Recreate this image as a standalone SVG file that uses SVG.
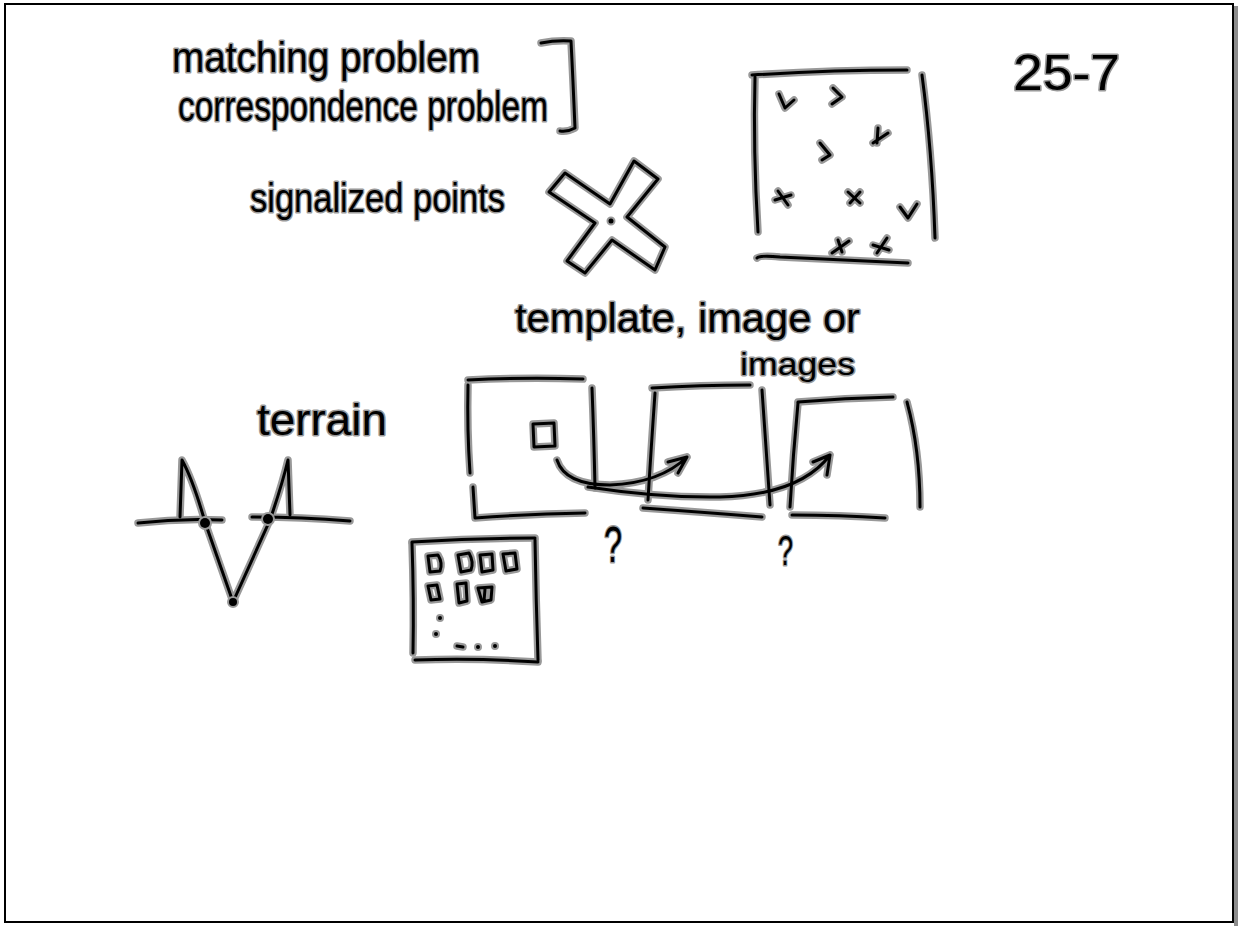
<svg xmlns="http://www.w3.org/2000/svg" xmlns:xlink="http://www.w3.org/1999/xlink" width="1238" height="926" viewBox="0 0 1238 926">
<style>
.halo{fill:none;stroke:#999;stroke-width:7.5;stroke-linecap:round;stroke-linejoin:round}
.ink{fill:none;stroke:#000;stroke-width:3;stroke-linecap:round;stroke-linejoin:round}
.dothalo{fill:#999;stroke:#999;stroke-width:4}
.dot{fill:#000}
.hw{font-family:"Liberation Sans","DejaVu Sans",sans-serif;fill:#000;stroke:#999;stroke-width:3;paint-order:stroke;stroke-linejoin:round}
</style>
<defs>
<g id="strokes">
<path d="M541,43 Q556,40 571,41 Q573,80 575,128 Q568,132 560,131"/>
<path d="M549,192 L565,173 L610,204 L634,161 L658,179 L627,217 L665,247 L655,270 L612,240 L585,273 L567,261 L595,223 Z"/>
<path d="M752,75 Q830,70 907,70"/>
<path d="M755,77 Q753,150 758,232"/>
<path d="M922,75 Q932,150 935,238"/>
<path d="M757,258 Q760,255 780,257 Q850,260 908,263"/>
<path d="M779,94 L785,108 L794,100"/>
<path d="M833,88 L842,97 L832,104"/>
<path d="M820,143 L830,155 L822,160"/>
<path d="M878,128 L877,143 M873,143 L888,133"/>
<path d="M778,191 L788,205 M775,200 L791,195"/>
<path d="M848,192 L860,203 M860,192 L850,203"/>
<path d="M900,207 L908,218 L917,204"/>
<path d="M832,253 L849,241 M838,240 L842,252"/>
<path d="M887,238 L877,253 M873,245 L889,250"/>
<path d="M468,380 Q525,377 583,379"/>
<path d="M468,385 Q467,430 470,473"/>
<path d="M473,487 L475,518 Q530,514 585,513"/>
<path d="M592,388 Q594,440 595,488"/>
<path d="M533,424 L554,423 L555,446 L534,447 Z"/>
<path d="M652,388 Q700,385 750,385"/>
<path d="M655,393 Q651,450 648,500"/>
<path d="M643,508 Q700,512 762,517"/>
<path d="M762,390 Q766,450 770,505"/>
<path d="M798,402 Q845,398 893,397"/>
<path d="M798,403 Q793,455 790,507"/>
<path d="M792,515 Q840,515 885,518"/>
<path d="M907,402 Q920,450 920,507"/>
<path d="M557,460 Q565,485 610,485 Q660,483 687,457 M668,462 L687,457 L678,473"/>
<path d="M588,487 Q660,498 720,497 Q800,495 830,455 M813,462 L830,455 L827,475"/>
<path d="M138,523 Q180,518 222,520"/>
<path d="M252,517 Q300,517 350,521"/>
<path d="M180,517 L182,460 Q193,480 205,522 L233,602 L270,520 Q282,485 288,460 L290,515"/>
<path d="M412,542 Q475,538 535,538"/>
<path d="M412,543 Q414,600 413,653"/>
<path d="M415,660 Q478,658 538,662"/>
<path d="M535,540 Q536,600 538,660"/>
<path d="M428,556 L438,555 Q443,563 440,571 L430,572 Z"/>
<path d="M458,555 L469,553 Q474,562 471,570 L461,572 Z"/>
<path d="M480,555 L492,554 L493,570 L482,572 Z"/>
<path d="M503,554 L515,553 L517,569 L506,571 Z"/>
<path d="M428,586 L437,585 L440,599 L431,600 Z"/>
<path d="M457,584 L466,583 L467,601 L459,603 Z"/>
<path d="M478,588 L492,587 L491,600 L482,602 Z M485,589 L484,601"/>
<path d="M457,646 L463,647"/>
</g>
<g id="dots">
<circle cx="611" cy="221" r="2.5"/>
<circle cx="205" cy="523" r="5"/>
<circle cx="268" cy="519" r="5"/>
<circle cx="233" cy="602" r="4"/>
<circle cx="440" cy="618" r="2"/>
<circle cx="436" cy="634" r="2"/>
<circle cx="478" cy="647" r="2"/>
<circle cx="495" cy="646" r="2"/>
</g>
</defs>
<rect x="0" y="0" width="1238" height="926" fill="#fff"/>
<g id="frame">
<rect x="1234" y="6" width="4" height="920" fill="#8c8c8c"/>
<rect x="5" y="4" width="1228" height="918" fill="none" stroke="#000" stroke-width="2"/>
</g>
<g id="sketch">
<use xlink:href="#strokes" class="halo"/>
<use xlink:href="#strokes" class="ink"/>
<use xlink:href="#dots" class="dothalo"/>
<use xlink:href="#dots" class="dot"/>
</g>
<g id="labels">
<text class="hw" x="172" y="72" font-size="42" textLength="308" lengthAdjust="spacingAndGlyphs">matching problem</text>
<text class="hw" x="178" y="121" font-size="42" textLength="370" lengthAdjust="spacingAndGlyphs">correspondence problem</text>
<text class="hw" x="250" y="212" font-size="40" textLength="255" lengthAdjust="spacingAndGlyphs">signalized points</text>
<text class="hw" x="1013" y="90" font-size="50" textLength="107" lengthAdjust="spacingAndGlyphs">25-7</text>
<text class="hw" x="515" y="332" font-size="40" textLength="345" lengthAdjust="spacingAndGlyphs">template, image or</text>
<text class="hw" x="740" y="375" font-size="32" textLength="115" lengthAdjust="spacingAndGlyphs">images</text>
<text class="hw" x="257" y="435" font-size="44" textLength="130" lengthAdjust="spacingAndGlyphs">terrain</text>
<text class="hw" x="604" y="562" font-size="50" textLength="18" lengthAdjust="spacingAndGlyphs">?</text>
<text class="hw" x="778" y="565" font-size="42" textLength="15" lengthAdjust="spacingAndGlyphs">?</text>
</g>
</svg>
